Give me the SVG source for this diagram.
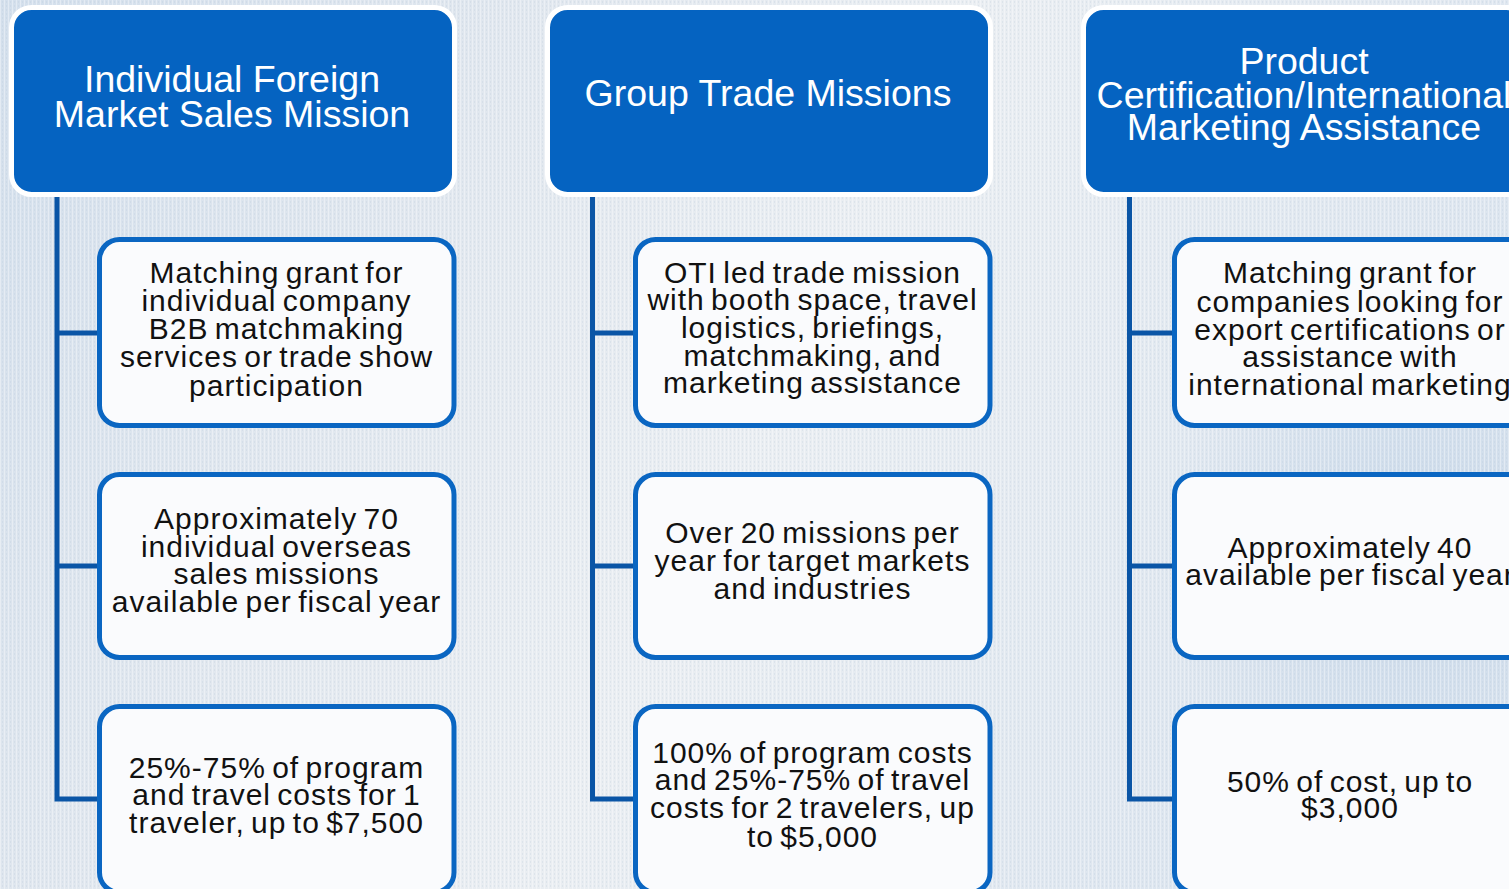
<svg xmlns="http://www.w3.org/2000/svg" width="1509" height="889" viewBox="0 0 1509 889">
  <defs>
    <linearGradient id="bg" x1="0" y1="0" x2="1" y2="0.3">
      <stop offset="0" stop-color="#D3DFEC"/>
      <stop offset="0.35" stop-color="#E2E8EF"/>
      <stop offset="0.6" stop-color="#EAEEF2"/>
      <stop offset="1" stop-color="#DCE5EF"/>
    </linearGradient>
    <radialGradient id="glow" cx="1420" cy="560" r="260" gradientUnits="userSpaceOnUse">
      <stop offset="0" stop-color="#C5D6E8" stop-opacity="0.8"/>
      <stop offset="1" stop-color="#C5D6E8" stop-opacity="0"/>
    </radialGradient>
    <pattern id="knit" width="4" height="4" patternUnits="userSpaceOnUse">
      <rect x="0" y="0" width="1" height="4" fill="#FFFFFF" opacity="0.35"/>
      <rect x="2" y="1" width="1" height="2" fill="#B8C8D8" opacity="0.25"/>
    </pattern>
    <style>
      .hdr { fill: #0563C1; stroke: #FFFFFF; stroke-width: 5; }
      .child { fill: #FAFBFD; stroke: #0A66C2; stroke-width: 5; }
      .conn { fill: none; stroke: #0A55A6; stroke-width: 5; stroke-linejoin: miter; stroke-linecap: butt; }
      .ht { font-family: "Liberation Sans", Arial, sans-serif; font-size: 37.5px; fill: #FFFFFF; text-anchor: middle; }
      .ct { font-family: "Liberation Sans", Arial, sans-serif; font-size: 30px; letter-spacing: 1px; word-spacing: -3px; fill: #111111; text-anchor: middle; }
    </style>
  </defs>

  <rect x="0" y="0" width="1509" height="889" fill="url(#bg)"/>
  <rect x="0" y="0" width="1509" height="889" fill="url(#glow)"/>
  <rect x="0" y="0" width="1509" height="889" fill="url(#knit)"/>

  <g id="connectors">
    <path class="conn" d="M57,192 V799 H99 M57,333 H99 M57,566 H99"/>
    <path class="conn" d="M592.5,192 V799 H635 M592.5,333 H635 M592.5,566 H635"/>
    <path class="conn" d="M1129.5,192 V799 H1174 M1129.5,333 H1174 M1129.5,566 H1174"/>
  </g>

  <!-- Column 1 -->
  <g id="h1">
    <rect class="hdr" x="11.5" y="7.5" width="443" height="187" rx="20"/>
    <text class="ht"><tspan x="232" y="92">Individual Foreign</tspan><tspan x="232" y="127">Market Sales Mission</tspan></text>
  </g>
  <g id="c1a">
    <rect class="child" x="99.5" y="239.5" width="354.5" height="186" rx="20"/>
    <text class="ct"><tspan x="276.5" y="283">Matching grant for</tspan><tspan x="276.5" y="311">individual company</tspan><tspan x="276.5" y="339">B2B matchmaking</tspan><tspan x="276.5" y="367">services or trade show</tspan><tspan x="276.5" y="396">participation</tspan></text>
  </g>
  <g id="c1b">
    <rect class="child" x="99.5" y="474.5" width="354.5" height="183" rx="20"/>
    <text class="ct"><tspan x="276.5" y="529">Approximately 70</tspan><tspan x="276.5" y="557">individual overseas</tspan><tspan x="276.5" y="584">sales missions</tspan><tspan x="276.5" y="612">available per fiscal year</tspan></text>
  </g>
  <g id="c1c">
    <rect class="child" x="99.5" y="706.5" width="354.5" height="186" rx="20"/>
    <text class="ct"><tspan x="276.5" y="778">25%-75% of program</tspan><tspan x="276.5" y="805">and travel costs for 1</tspan><tspan x="276.5" y="833">traveler, up to $7,500</tspan></text>
  </g>

  <!-- Column 2 -->
  <g id="h2">
    <rect class="hdr" x="547.5" y="7.5" width="443" height="187" rx="20"/>
    <text class="ht"><tspan x="768" y="106">Group Trade Missions</tspan></text>
  </g>
  <g id="c2a">
    <rect class="child" x="635.5" y="239.5" width="354.5" height="186" rx="20"/>
    <text class="ct"><tspan x="812.5" y="283">OTI led trade mission</tspan><tspan x="812.5" y="310">with booth space, travel</tspan><tspan x="812.5" y="338">logistics, briefings,</tspan><tspan x="812.5" y="366">matchmaking, and</tspan><tspan x="812.5" y="393">marketing assistance</tspan></text>
  </g>
  <g id="c2b">
    <rect class="child" x="635.5" y="474.5" width="354.5" height="183" rx="20"/>
    <text class="ct"><tspan x="812.5" y="543">Over 20 missions per</tspan><tspan x="812.5" y="571">year for target markets</tspan><tspan x="812.5" y="599">and industries</tspan></text>
  </g>
  <g id="c2c">
    <rect class="child" x="635.5" y="706.5" width="354.5" height="186" rx="20"/>
    <text class="ct"><tspan x="812.5" y="763">100% of program costs</tspan><tspan x="812.5" y="790">and 25%-75% of travel</tspan><tspan x="812.5" y="818">costs for 2 travelers, up</tspan><tspan x="812.5" y="847">to $5,000</tspan></text>
  </g>

  <!-- Column 3 -->
  <g id="h3">
    <rect class="hdr" x="1083.5" y="7.5" width="443" height="187" rx="20"/>
    <text class="ht"><tspan x="1304" y="74">Product</tspan><tspan x="1304" y="108">Certification/International</tspan><tspan x="1304" y="140">Marketing Assistance</tspan></text>
  </g>
  <g id="c3a">
    <rect class="child" x="1174.5" y="239.5" width="354.5" height="186" rx="20"/>
    <text class="ct"><tspan x="1350" y="283">Matching grant for</tspan><tspan x="1350" y="312">companies looking for</tspan><tspan x="1350" y="340">export certifications or</tspan><tspan x="1350" y="367">assistance with</tspan><tspan x="1350" y="395">international marketing</tspan></text>
  </g>
  <g id="c3b">
    <rect class="child" x="1174.5" y="474.5" width="354.5" height="183" rx="20"/>
    <text class="ct"><tspan x="1350" y="558">Approximately 40</tspan><tspan x="1350" y="585">available per fiscal year</tspan></text>
  </g>
  <g id="c3c">
    <rect class="child" x="1174.5" y="706.5" width="354.5" height="186" rx="20"/>
    <text class="ct"><tspan x="1350" y="792">50% of cost, up to</tspan><tspan x="1350" y="818">$3,000</tspan></text>
  </g>
</svg>
